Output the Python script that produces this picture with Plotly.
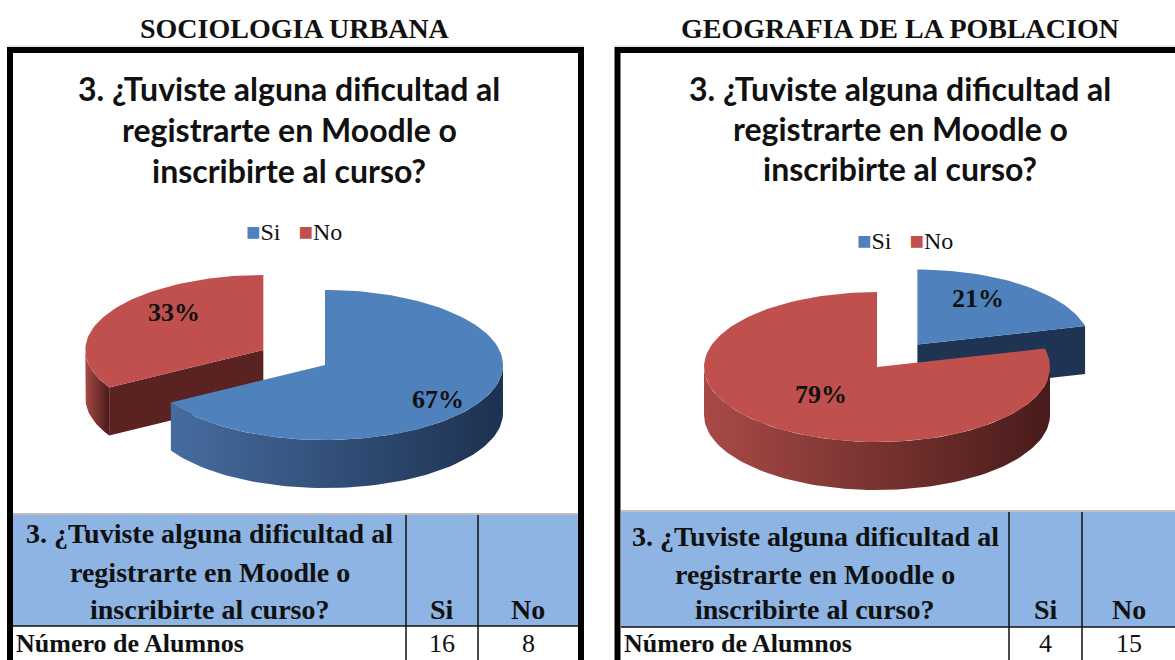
import numpy as np
import plotly.graph_objects as go

# ---------------- data ----------------
panel_titles = ["SOCIOLOGIA URBANA", "GEOGRAFIA DE LA POBLACION"]
question_lines = ["3. ¿Tuviste alguna dificultad al", "registrarte en Moodle o", "inscribirte al curso?"]
categories = ["Si", "No"]
sociologia_counts = [16, 8]
geografia_counts = [4, 15]
row_label = "Número de Alumnos"

# ---------------- styles ----------------
top_color = {"Si": "#4F81BD", "No": "#C0504D"}
wall_grad = {"Si": ["#466C9F", "#1D3150"], "No": ["#A84A47", "#481B1A"]}
cut_color = {"Si": "#1F3452", "No": "#5A2321"}
header_fill = "#8DB4E2"
SERIF = "Liberation Serif, Times New Roman, serif"
SANS = "Lato, Calibri, sans-serif"

panels = [
    dict(counts=sociologia_counts, x0=10, x1=581, title_x=295, q_x=289, q_y=[88, 129, 170],
         legend_x=294, legend_y=232, cx=325, cy=365, rx=178, ry=75, depth=48, pull=[0.0, 0.4],
         label_f=[(0.73, 0.93), (0.58, 1.0)],
         tab=dict(left=13, right=578, c1=406, c2=478, top=515, mid=626, hy=[533, 572, 609])),
    dict(counts=geografia_counts, x0=617.5, x1=1200, title_x=900, q_x=900, q_y=[88, 128, 168],
         legend_x=905, legend_y=241, cx=877, cy=367, rx=173, ry=75, depth=48, pull=[0.38, 0.0],
         label_f=[(0.57, 0.78), (0.53, 0.47)],
         tab=dict(left=621, right=1175, c1=1009, c2=1082, top=512, mid=627, hy=[536, 574, 609])),
]

fig = go.Figure()
shapes = []
annotations = []


def pt(cx, cy, rx, ry, a):
    r = np.radians(a)
    return cx + rx * np.sin(r), cy - ry * np.cos(r)


def arc(cx, cy, rx, ry, a0, a1):
    a = np.linspace(a0, a1, max(int(abs(a1 - a0) / 2) + 2, 3))
    r = np.radians(a)
    return list(cx + rx * np.sin(r)), list(cy - ry * np.cos(r))


def add_poly(xs, ys, color=None, grad=None):
    kw = dict(x=xs, y=ys, mode="lines", fill="toself", line=dict(width=0),
              hoverinfo="skip", showlegend=False)
    if grad:
        kw["fillgradient"] = dict(type="horizontal", colorscale=[[0, grad[0]], [1, grad[1]]])
        kw["fillcolor"] = grad[0]
    else:
        kw["fillcolor"] = color
    fig.add_trace(go.Scatter(**kw))


for p_i, p in enumerate(panels):
    counts = p["counts"]
    total = sum(counts)
    starts = np.cumsum([0] + counts[:-1]) / total * 360
    spans = np.array(counts) / total * 360
    slices = []
    for i, cat in enumerate(categories):
        a0, a1 = starts[i], starts[i] + spans[i]
        mid = (a0 + a1) / 2
        e = p["pull"][i]
        ox, oy = pt(0, 0, p["rx"] * e, p["ry"] * e, mid)
        slices.append(dict(cat=cat, a0=a0, a1=a1, mid=mid, cx=p["cx"] + ox, cy=p["cy"] + oy,
                           pct=round(counts[i] / total * 100), lf=p["label_f"][i]))
    slices.sort(key=lambda s: -np.cos(np.radians(s["mid"])))
    rx, ry, d = p["rx"], p["ry"], p["depth"]
    for s in slices:
        cx, cy, a0, a1, cat = s["cx"], s["cy"], s["a0"], s["a1"], s["cat"]
        lo, hi = max(a0, 90), min(a1, 270)
        if hi > lo:
            tx, ty = arc(cx, cy, rx, ry, lo, hi)
            bx, by = arc(cx, cy + d, rx, ry, hi, lo)
            add_poly(tx + bx, ty + by, grad=wall_grad[cat])
        for ang, nrm in ((a0, a0 - 90), (a1, a1 + 90)):
            if np.cos(np.radians(nrm)) < -0.05:
                ex, ey = pt(cx, cy, rx, ry, ang)
                add_poly([cx, ex, ex, cx], [cy, ey, ey + d, cy + d], color=cut_color[cat])
        tx, ty = arc(cx, cy, rx, ry, a0, a1)
        add_poly([cx] + tx + [cx], [cy] + ty + [cy], color=top_color[cat])
    for s in slices:
        lx, ly = pt(s["cx"], s["cy"], rx * s["lf"][0], ry * s["lf"][1], s["mid"])
        annotations.append(dict(x=lx, y=ly, text=f"<b>{s['pct']}%</b>", showarrow=False,
                                font=dict(family=SERIF, size=26, color="#111111"),
                                xanchor="center", yanchor="middle"))

    annotations.append(dict(x=p["title_x"], y=28, text=f"<b>{panel_titles[p_i]}</b>", showarrow=False,
                            font=dict(family=SERIF, size=28, color="#111111"),
                            xanchor="center", yanchor="middle"))
    for ln, yy in zip(question_lines, p["q_y"]):
        annotations.append(dict(x=p["q_x"], y=yy, text=f"<b>{ln}</b>", showarrow=False,
                                font=dict(family=SANS, size=32, color="#111111"),
                                xanchor="center", yanchor="middle"))
    leg = "   ".join(f"<span style='color:{top_color[c]}'>■</span>{c}" for c in categories)
    annotations.append(dict(x=p["legend_x"], y=p["legend_y"], text=leg, showarrow=False,
                            font=dict(family=SERIF, size=24, color="#111111"),
                            xanchor="center", yanchor="middle"))

    t = p["tab"]
    shapes.append(dict(type="rect", x0=t["left"], x1=t["right"], y0=t["top"], y1=t["mid"],
                       fillcolor=header_fill, line=dict(width=0), layer="below"))
    shapes.append(dict(type="line", x0=t["left"], x1=t["right"], y0=t["top"] - 1, y1=t["top"] - 1,
                       line=dict(color="#BFBFBF", width=2)))
    shapes.append(dict(type="line", x0=t["left"], x1=t["right"], y0=t["mid"], y1=t["mid"],
                       line=dict(color="#111111", width=1.5)))
    for cxl in (t["c1"], t["c2"]):
        shapes.append(dict(type="line", x0=cxl, x1=cxl, y0=t["top"], y1=700,
                           line=dict(color="#111111", width=1.5)))
    first_c = (t["left"] + t["c1"]) / 2
    col_c = [(t["c1"] + t["c2"]) / 2, (t["c2"] + t["right"]) / 2]
    for ln, yy in zip(question_lines, t["hy"]):
        annotations.append(dict(x=first_c, y=yy, text=f"<b>{ln}</b>", showarrow=False,
                                font=dict(family=SERIF, size=28, color="#111111"),
                                xanchor="center", yanchor="middle"))
    for c, xc, v in zip(categories, col_c, counts):
        annotations.append(dict(x=xc, y=t["hy"][2], text=f"<b>{c}</b>", showarrow=False,
                                font=dict(family=SERIF, size=28, color="#111111"),
                                xanchor="center", yanchor="middle"))
        annotations.append(dict(x=xc, y=643, text=str(v), showarrow=False,
                                font=dict(family=SERIF, size=26, color="#111111"),
                                xanchor="center", yanchor="middle"))
    annotations.append(dict(x=t["left"] + 1, y=643, text=f"<b>{row_label}</b>", showarrow=False,
                            font=dict(family=SERIF, size=26, color="#111111"),
                            xanchor="left", yanchor="middle"))

    shapes.append(dict(type="line", x0=p["x0"] - 3, x1=p["x1"] + 3, y0=46, y1=46,
                       line=dict(color="#D0D0D0", width=1)))
    shapes.append(dict(type="rect", x0=p["x0"], x1=p["x1"], y0=50, y1=720,
                       line=dict(color="#000000", width=6), fillcolor="rgba(0,0,0,0)"))

fig.update_layout(
    width=1175, height=660,
    margin=dict(l=0, r=0, t=0, b=0),
    paper_bgcolor="white", plot_bgcolor="white",
    xaxis=dict(range=[0, 1175], visible=False, fixedrange=True),
    yaxis=dict(range=[660, 0], visible=False, fixedrange=True),
    shapes=shapes, annotations=annotations, showlegend=False,
)
fig.write_html("out.html", config={"displayModeBar": False},
               post_script="document.body.style.margin='0px';document.body.style.overflow='hidden';")
